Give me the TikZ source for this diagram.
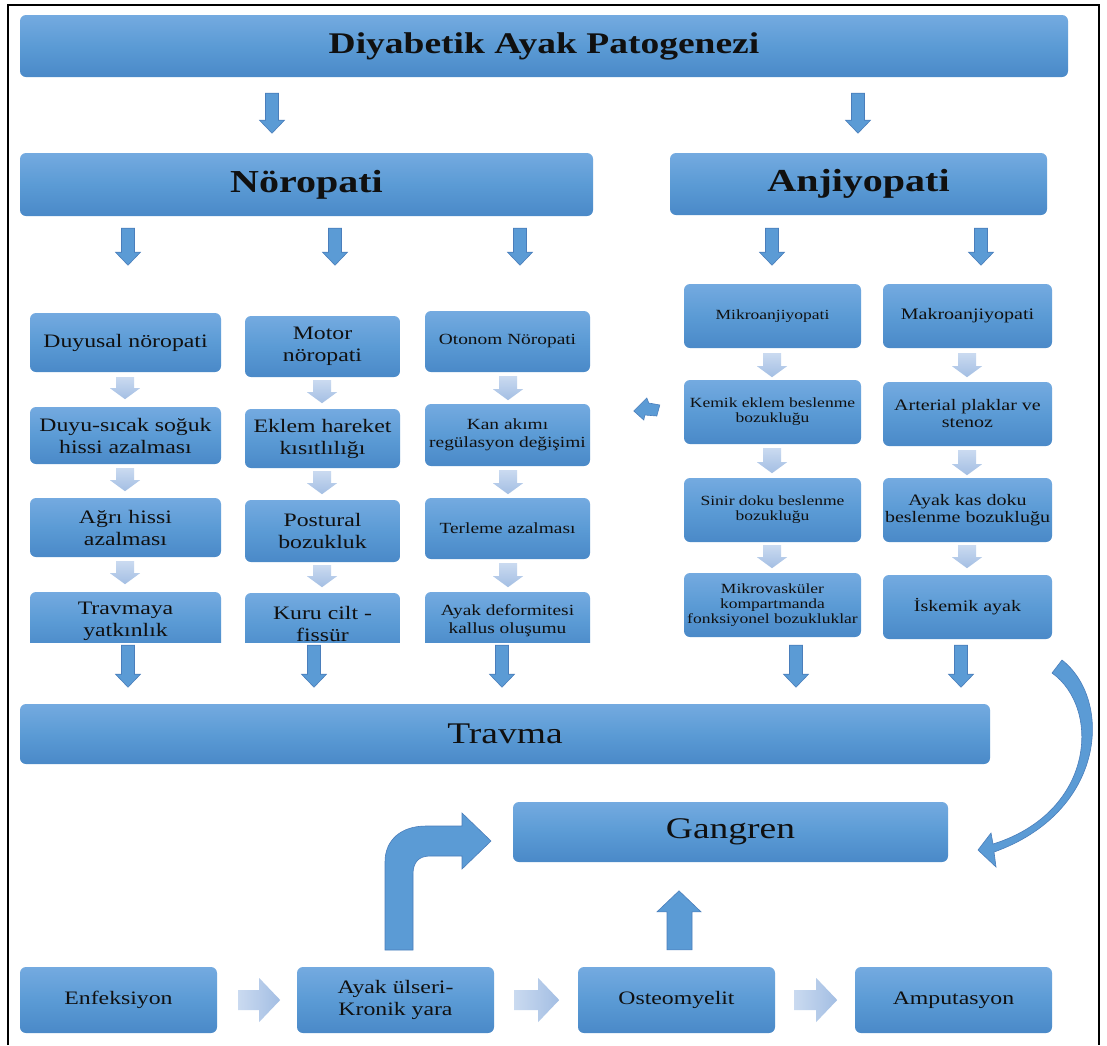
\documentclass[tikz,border=0pt]{standalone}
\usepackage{fontspec}
\setmainfont[FakeStretch=1.25]{Liberation Serif}
\usetikzlibrary{calc}
\definecolor{boxtop}{HTML}{74AAE0}
\definecolor{boxmid}{HTML}{5B9BD5}
\definecolor{boxbot}{HTML}{4A89C8}
\definecolor{arrfill}{HTML}{5B9BD5}
\definecolor{arredge}{HTML}{4A7EBB}
\definecolor{ltop}{HTML}{CADAF0}
\definecolor{lbot}{HTML}{A3BEE3}
\definecolor{txt}{HTML}{101010}
\tikzset{
 box/.style={rounded corners=6pt, top color=boxtop, bottom color=boxbot, middle color=boxmid, inner sep=0pt, align=center, text=txt},
 darr/.style={fill=arrfill, draw=arredge, line width=0.6pt},
 larr/.style={top color=ltop, bottom color=lbot},
 harr/.style={left color=ltop, right color=lbot},
}
\newcommand\bx[7]{\node[box,font={#6},minimum width={#4-#2},minimum height={#5-#3}] (#1) at ({(#2+#4)/2},{(#3+#5)/2}) {#7};}
% down arrow: style, x, node, gap, length, shaft half, head half, head length
\newcommand\DArrGen[8]{\path[#1] let \p1=(#3.south), \n1={\y1-#4pt}, \n2={\y1-#4pt-#5pt} in
  ({#2pt-#6pt},\n1) -- ({#2pt+#6pt},\n1) -- ({#2pt+#6pt},{\n2+#8pt}) -- ({#2pt+#7pt},{\n2+#8pt}) -- (#2pt,\n2) -- ({#2pt-#7pt},{\n2+#8pt}) -- ({#2pt-#6pt},{\n2+#8pt}) -- cycle;}
\newcommand\DBig[4]{\DArrGen{darr}{#1}{#2}{#3}{#4}{6.5}{12.5}{13}}
\newcommand\DLight[4]{\DArrGen{larr}{#1}{#2}{#3}{#4}{9}{15}{11}}
% right chevron: node, gap, length
\newcommand\RLight[3]{\path[harr] let \p1=(#1.east), \n1={\x1+#2pt}, \n2={\x1+#2pt+#3pt} in
  (\n1,{\y1+10pt}) -- ({\n2-21pt},{\y1+10pt}) -- ({\n2-21pt},{\y1+22pt}) -- (\n2,\y1) -- ({\n2-21pt},{\y1-22pt}) -- ({\n2-21pt},{\y1-10pt}) -- (\n1,{\y1-10pt}) -- cycle;}
\newcommand\fTitle{\fontsize{30}{34}\selectfont\bfseries}
\newcommand\fHead{\fontsize{32}{36}\selectfont\bfseries}
\newcommand\fBig{\fontsize{30}{34}\selectfont}
\newcommand\fA{\fontsize{19}{22}\selectfont}
\newcommand\fC{\fontsize{15.5}{18}\selectfont}
\newcommand\fM{\fontsize{14}{15}\selectfont}
\newcommand\fK{\fontsize{16}{17}\selectfont}
\newcommand\fBot{\fontsize{19}{22}\selectfont}
\begin{document}
\begin{tikzpicture}[x=1pt,y=-1pt]
\useasboundingbox (0,0) rectangle (1107,1045);
\fill[white] (0,0) rectangle (1107,1045);
\draw[line width=1.5pt] (8,1045) -- (8,5) -- (1099,5) -- (1099,1045);
% top level
\bx{title}{20}{15}{1068}{77}{\fTitle}{Diyabetik Ayak Patogenezi}
\bx{neuro}{20}{153}{593}{216}{\fHead}{Nöropati}
\bx{angio}{670}{153}{1047}{215}{\fHead}{Anjiyopati}
% neuropathy columns
\bx{n11}{30}{313}{221}{372}{\fA}{Duyusal nöropati}
\bx{n12}{30}{407}{221}{464}{\fA}{Duyu-sıcak soğuk\\hissi azalması}
\bx{n13}{30}{498}{221}{557}{\fA}{Ağrı hissi\\azalması}
\bx{n21}{245}{316}{400}{377}{\fA}{Motor\\nöropati}
\bx{n22}{245}{409}{400}{468}{\fA}{Eklem hareket\\kısıtlılığı}
\bx{n23}{245}{500}{400}{562}{\fA}{Postural\\bozukluk}
\bx{n31}{425}{311}{590}{372}{\fC}{Otonom Nöropati}
\bx{n32}{425}{404}{590}{466}{\fC}{Kan akımı\\regülasyon değişimi}
\bx{n33}{425}{498}{590}{559}{\fC}{Terleme azalması}
\begin{scope}
\clip (0,0) rectangle (600,642);
\bx{n14}{30}{592}{221}{650}{\fA}{Travmaya\\yatkınlık}
\bx{n24}{245}{593}{400}{655}{\fA}{Kuru cilt -\\fissür}
\bx{n34}{425}{592}{590}{650}{\fC}{Ayak deformitesi\\kallus oluşumu}
\end{scope}
% angiopathy columns
\bx{m11}{684}{284}{861}{348}{\fM}{Mikroanjiyopati}
\bx{m12}{684}{380}{861}{444}{\fM}{Kemik eklem beslenme\\bozukluğu}
\bx{m13}{684}{478}{861}{542}{\fM}{Sinir doku beslenme\\bozukluğu}
\bx{m14}{684}{573}{861}{637}{\fM}{Mikrovasküler\\kompartmanda\\fonksiyonel bozukluklar}
\bx{m21}{883}{284}{1052}{348}{\fK}{Makroanjiyopati}
\bx{m22}{883}{382}{1052}{446}{\fK}{Arterial plaklar ve\\stenoz}
\bx{m23}{883}{478}{1052}{542}{\fK}{Ayak kas doku\\beslenme bozukluğu}
\bx{m24}{883}{575}{1052}{639}{\fK}{İskemik ayak}
% lower part
\bx{travma}{20}{704}{990}{764}{\fBig}{Travma}
\bx{gangren}{513}{802}{948}{862}{\fBig}{Gangren}
\bx{enf}{20}{967}{217}{1033}{\fBot}{Enfeksiyon}
\bx{ulser}{297}{967}{494}{1033}{\fBot}{Ayak ülseri-\\Kronik yara}
\bx{osteo}{578}{967}{775}{1033}{\fBot}{Osteomyelit}
\bx{amp}{855}{967}{1052}{1033}{\fBot}{Amputasyon}
% big arrows
\DBig{272}{title}{16}{40}
\DBig{858}{title}{16}{40}
\DBig{128}{neuro}{12}{37}
\DBig{335}{neuro}{12}{37}
\DBig{520}{neuro}{12}{37}
\DBig{772}{angio}{13}{37}
\DBig{981}{angio}{13}{37}
\DBig{128}{n14}{-5}{42}
\DBig{314}{n24}{-10}{42}
\DBig{502}{n34}{-5}{42}
\DBig{796}{m14}{8}{42}
\DBig{961}{m24}{6}{42}
% light arrows
\DLight{125}{n11}{5}{22}
\DLight{125}{n12}{4}{23}
\DLight{125}{n13}{4}{23}
\DLight{322}{n21}{3}{23}
\DLight{322}{n22}{3}{23}
\DLight{322}{n23}{3}{22}
\DLight{508}{n31}{4}{24}
\DLight{508}{n32}{4}{24}
\DLight{508}{n33}{4}{24}
\DLight{772}{m11}{5}{24}
\DLight{772}{m12}{4}{25}
\DLight{772}{m13}{3}{23}
\DLight{967}{m21}{5}{24}
\DLight{967}{m22}{4}{25}
\DLight{967}{m23}{3}{23}
\RLight{enf}{21}{42}
\RLight{ulser}{20}{45}
\RLight{osteo}{19}{43}
% small left arrow beside Kemik eklem box
\path[darr] let \p1=(m12.west) in
  ({\x1-24pt},{\y1+7pt}) -- ({\x1-35pt},{\y1+9pt}) -- ({\x1-37pt},{\y1+14pt}) -- ({\x1-50pt},{\y1+1pt})
  -- ({\x1-40pt},{\y1-8pt}) -- ({\x1-39pt},{\y1-3pt}) -- ({\x1-27pt},{\y1-4pt}) -- cycle;
% up arrow osteomyelit -> gangren
\path[darr] let \p1=(osteo.north) in
  ({667pt},{\y1+17pt}) -- ({692pt},{\y1+17pt}) -- ({692pt},{\y1+55pt}) -- ({701pt},{\y1+55pt}) -- ({679pt},{\y1+76pt})
  -- ({657pt},{\y1+55pt}) -- ({667pt},{\y1+55pt}) -- cycle;
% bent arrow ulser -> gangren
\path[darr] (385,950) -- (385,862) .. controls (385,840) and (401,826) .. (426,826) -- (462,826) -- (462,813)
  -- (491,841) -- (462,869) -- (462,856) -- (430,856) .. controls (419,856) and (413,862) .. (413,874) -- (413,950) -- cycle;
% curved arrow angiopathy -> gangren
\path[darr] (1052,673) -- (1062,660) .. controls (1113,700) and (1106,812) .. (994,852)
  -- (996,867) -- (978,850) -- (991,833) -- (993,844) .. controls (1095,812) and (1101,708) .. (1052,673) -- cycle;
\end{tikzpicture}
\end{document}
